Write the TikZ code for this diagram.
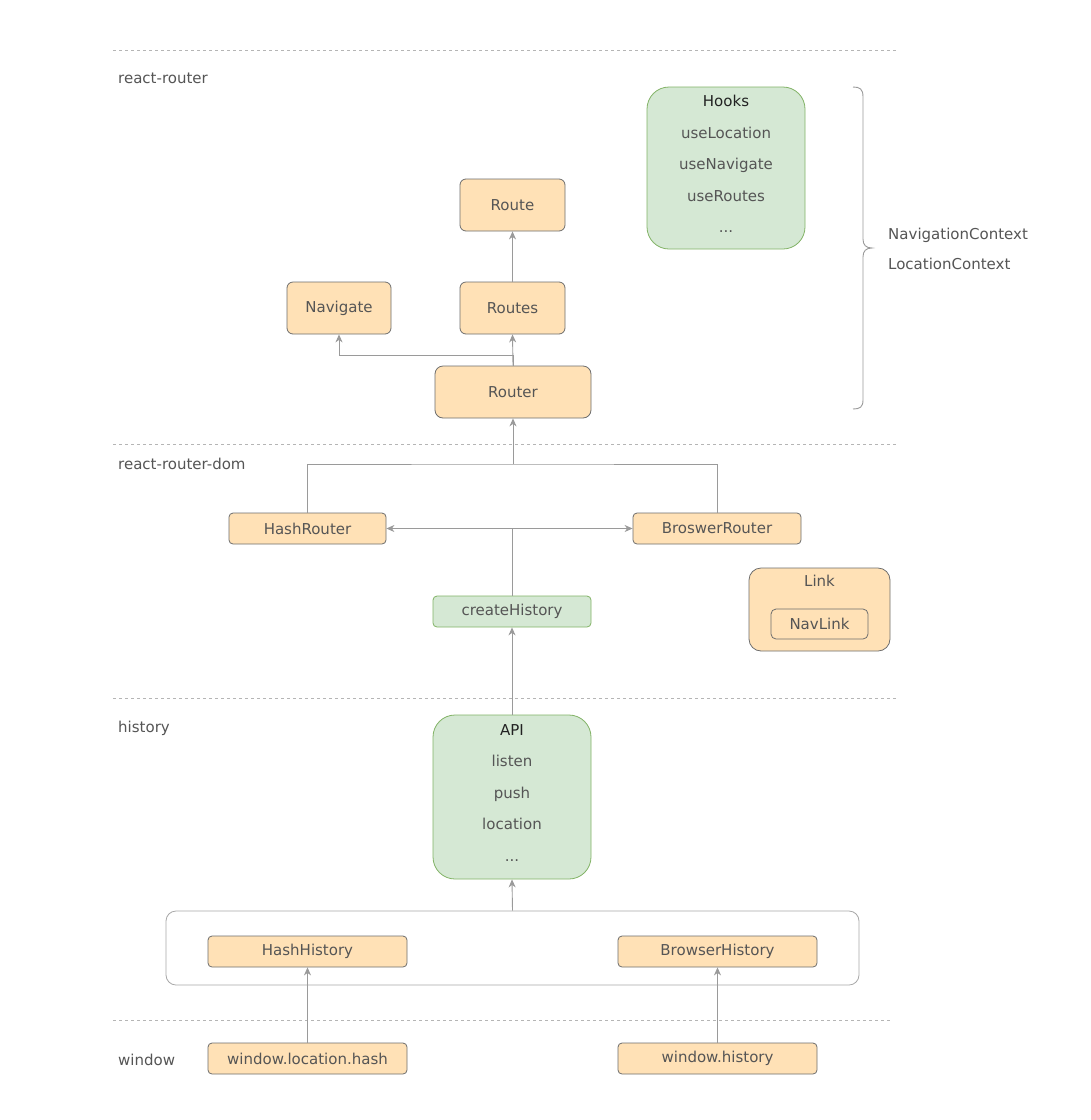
\documentclass[tikz,border=0pt]{standalone}
\usepackage{fontspec}
\setmainfont{DejaVu Sans}
\usetikzlibrary{arrows.meta}
\definecolor{ofill}{HTML}{FFE1B6}
\definecolor{gfill}{HTML}{D5E8D4}
\definecolor{gline}{HTML}{82B366}
\definecolor{bline}{HTML}{6E6E6E}
\definecolor{tgray}{HTML}{555555}
\definecolor{tdark}{HTML}{222222}
\definecolor{lgray}{HTML}{9A9A9A}
\definecolor{cgray}{HTML}{A8A8A8}
\definecolor{sgray}{HTML}{B5B5B5}
\begin{document}
\begin{tikzpicture}[x=1pt,y=-1pt,
  txt/.style={text=tgray, font=\fontsize{15}{18}\selectfont},
  obox/.style={draw=bline, fill=ofill, rounded corners=6pt, txt, inner sep=0pt, line width=0.8pt},
  gbox/.style={draw=gline, fill=gfill, rounded corners=6pt, txt, inner sep=0pt, line width=0.8pt},
  conn/.style={draw=lgray, line width=0.9pt},
  arr/.style={conn, -{Stealth[length=8pt,width=7pt,inset=2.5pt]}},
  dualarr/.style={conn, {Stealth[length=8pt,width=7pt,inset=2.5pt]}-{Stealth[length=8pt,width=7pt,inset=2.5pt]}},
  seprule/.style={draw=sgray, dash pattern=on 3pt off 3pt, line width=0.8pt},
  seclabel/.style={txt, anchor=west, inner sep=0pt}]
\useasboundingbox[fill=white] (0,0) rectangle (1091,1120);

% section separators
\draw[seprule] (113,50) -- (897,50);
\draw[seprule] (113,444) -- (897,444);
\draw[seprule] (113,698) -- (897,698);
\draw[seprule] (113,1020) -- (892,1020);

\node[seclabel] (lrr) at (118,78) {react-router};
\node[seclabel] (lrrd) at (118,464) {react-router-dom};
\node[seclabel] (lhist) at (118,728) {history};
\node[seclabel] (lwin) at (118,1060) {window};

% react-router
\node[gbox, rounded corners=22pt, minimum width=158pt, minimum height=162pt] (hooks) at (726,168) {};
\node[txt, align=center, font=\fontsize{15}{31.5}\selectfont, inner sep=0pt] (hookstxt) at (726,164)
  {\textcolor{tdark}{Hooks}\\useLocation\\useNavigate\\useRoutes\\...};

\node[obox, minimum width=105pt, minimum height=52pt] (route) at (512.5,205) {Route};
\node[obox, minimum width=105pt, minimum height=52pt] (routes) at (512.5,308) {Routes};
\node[obox, minimum width=104pt, minimum height=52pt] (navigate) at (339,308) {Navigate};
\node[obox, rounded corners=8pt, minimum width=156pt, minimum height=52pt] (router) at (513,392) {Router};

\draw[arr] (router.north) -- (routes.south);
\draw[arr] (router.north) -- ++(0,-10) -| (navigate.south);
\draw[arr] (routes.north) -- (route.south);

\draw[draw=lgray, line width=0.9pt]
  (853,87) .. controls (860,87) and (863,89) .. (863,97) -- (863,239)
  .. controls (863,245) and (866,248) .. (872,248)
  .. controls (866,248) and (863,251) .. (863,257) -- (863,400)
  .. controls (863,407) and (860,409) .. (853,409);
\node[txt, align=left, anchor=west, inner sep=0pt, font=\fontsize{15}{30}\selectfont] (ctx) at (888,249)
  {NavigationContext\\LocationContext};

% react-router-dom
\node[obox, rounded corners=4pt, minimum width=157pt, minimum height=31pt] (hashrouter) at (307.5,528.5) {HashRouter};
\node[obox, rounded corners=4pt, minimum width=168pt, minimum height=31pt] (broswerrouter) at (717,528.5) {BroswerRouter};
\node[gbox, rounded corners=4pt, minimum width=158pt, minimum height=31pt] (createhistory) at (512,611.5) {createHistory};

\coordinate (j1) at (513,464);
\draw[conn] (hashrouter.north) |- (j1) -| (broswerrouter.north);
\draw[arr] (j1) -- (router.south);

\coordinate (j2) at (512,529);
\draw[conn] (createhistory.north) -- (j2);
\draw[dualarr] (hashrouter.east) -- (broswerrouter.west);

\node[obox, rounded corners=12pt, minimum width=141pt, minimum height=83pt] (link) at (819.5,609.5) {};
\node[txt, inner sep=0pt] (linktxt) at (819.5,581) {Link};
\node[obox, rounded corners=5pt, minimum width=97pt, minimum height=30pt] (navlink) at (819.5,624) {NavLink};

% history
\node[gbox, rounded corners=22pt, minimum width=158pt, minimum height=164pt] (api) at (512,797) {};
\node[txt, align=center, font=\fontsize{15}{31.5}\selectfont, inner sep=0pt] (apitxt) at (512,793)
  {\textcolor{tdark}{API}\\listen\\push\\location\\...};
\draw[arr] (api.north) -- (createhistory.south);

\node[draw=cgray, fill=white, rounded corners=10pt, line width=0.8pt, minimum width=693pt, minimum height=74pt] (impls) at (512.5,948) {};
\draw[arr] (impls.north) -- (api.south);

\node[obox, rounded corners=4pt, minimum width=199pt, minimum height=31pt] (hashhistory) at (307.5,951.5) {HashHistory};
\node[obox, rounded corners=4pt, minimum width=199pt, minimum height=31pt] (browserhistory) at (717.5,951.5) {BrowserHistory};

% window
\node[obox, rounded corners=4pt, minimum width=199pt, minimum height=31pt] (wlh) at (307.5,1058.5) {window.location.hash};
\node[obox, rounded corners=4pt, minimum width=199pt, minimum height=31pt] (wh) at (717.5,1058.5) {window.history};

\draw[arr] (wlh.north) -- (hashhistory.south);
\draw[arr] (wh.north) -- (browserhistory.south);
\end{tikzpicture}
\end{document}
